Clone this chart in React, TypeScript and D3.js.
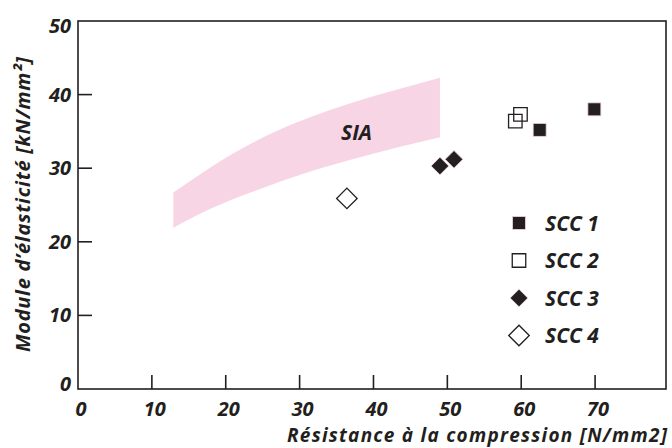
import React from 'react';
import * as d3 from 'd3';

// SIA band
const bandFc = [12.9, 16.3, 20.8, 25.3, 30.1, 36.8, 43.6, 49.0];
const bandLower = [21.9, 23.7, 25.7, 27.4, 29.1, 31.1, 32.9, 34.2];
const bandUpper = [26.7, 29.0, 31.9, 34.3, 36.4, 38.8, 40.8, 42.3];

// measured points
const scc1 = [[62.5, 35.2], [69.9, 38.0]];
const scc2 = [[59.2, 36.4], [59.9, 37.3]];
const scc3 = [[49.0, 30.3], [50.9, 31.2]];
const scc4 = [[36.4, 25.9]];

const seriesNames = ['SCC 1', 'SCC 2', 'SCC 3', 'SCC 4'];
const xTickValues = [0, 10, 20, 30, 40, 50, 60, 70];
const yTickValues = [0, 10, 20, 30, 40, 50];

const INK = '#231f20';
const FONT = '"Open Sans", "Noto Sans", sans-serif';

const x = d3.scaleLinear().domain([0, 79.6]).range([78, 666]);
const y = d3.scaleLinear().domain([0, 50]).range([389, 21]);

const square = (s) => d3.symbol(d3.symbolSquare, s * s)();

function Marker({kind, cx, cy}) {
  if (kind === 0) return <path d={square(13)} transform={`translate(${cx},${cy})`} fill={INK} stroke="#f6d6e4" strokeWidth={0.8} />;
  if (kind === 1) return <path d={square(13.5)} transform={`translate(${cx},${cy})`} fill="none" stroke={INK} strokeWidth={1.3} />;
  if (kind === 2) return <path d={square(12.5)} transform={`translate(${cx},${cy}) rotate(45)`} fill={INK} stroke="#f6d6e4" strokeWidth={0.8} />;
  return <path d={square(14.5)} transform={`translate(${cx},${cy}) rotate(45)`} fill="#fff" stroke={INK} strokeWidth={1.3} />;
}

export default function App() {
  const band = bandFc.map((fc, i) => ({fc, lo: bandLower[i], hi: bandUpper[i]}));
  const area = d3.area()
    .x(d => x(d.fc))
    .y0(d => y(d.lo))
    .y1(d => y(d.hi))
    .curve(d3.curveMonotoneX);

  const series = [scc1, scc2, scc3, scc4];
  const textStyle = {fontFamily: FONT, fontWeight: 700, fontStyle: 'italic', fill: INK};

  return (
    <svg width={672} height={448} style={{position: 'absolute', left: 0, top: 0}}>
      <rect width={672} height={448} fill="#fff" />
      <path d={area(band)} fill="#f8d5e5" />
      <text x={341} y={140} fontSize={21} style={textStyle}>SIA</text>

      {/* frame */}
      <rect x={x(0)} y={y(50)} width={x(79.6) - x(0)} height={y(0) - y(50)} fill="none" stroke={INK} strokeWidth={1.6} />

      {xTickValues.filter(v => v > 0).map(v => (
        <line key={'xt' + v} x1={x(v)} x2={x(v)} y1={y(0)} y2={y(0) - 14} stroke={INK} strokeWidth={1.6} />
      ))}
      {yTickValues.filter(v => v > 0 && v < 50).map(v => (
        <line key={'yt' + v} x1={x(0)} x2={x(0) + 14} y1={y(v)} y2={y(v)} stroke={INK} strokeWidth={1.6} />
      ))}

      {xTickValues.map(v => (
        <text key={'xl' + v} x={x(v) + 3} y={416} fontSize={20} textAnchor="middle" style={textStyle}>{v}</text>
      ))}
      {yTickValues.map(v => (
        <text key={'yl' + v} x={71} y={Math.min(Math.max(y(v), 26), 384) + 7} fontSize={20} textAnchor="end" style={textStyle}>{v}</text>
      ))}

      <text x={287} y={442} fontSize={19} textLength={380} lengthAdjust="spacing" style={textStyle}>Résistance à la compression [N/mm2]</text>
      <text transform="translate(30,352) rotate(-90)" fontSize={20} textLength={295} lengthAdjust="spacing" style={textStyle}>Module d’élasticité [kN/mm²]</text>

      {series.map((pts, k) => pts.map((p, i) => (
        <Marker key={k + '-' + i} kind={k} cx={x(p[0])} cy={y(p[1])} />
      )))}

      {seriesNames.map((name, k) => (
        <g key={name} transform={`translate(519,${223 + k * 37.5})`}>
          <Marker kind={k} cx={0} cy={0} />
          <text x={26} y={7.5} fontSize={21} style={textStyle}>{name}</text>
        </g>
      ))}
    </svg>
  );
}
